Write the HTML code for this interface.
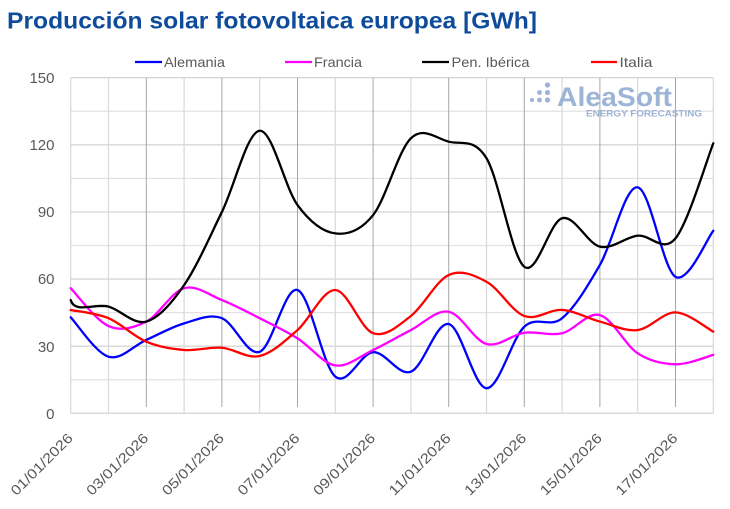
<!DOCTYPE html>
<html>
<head>
<meta charset="utf-8">
<style>
  html,body{margin:0;padding:0;background:#fff;}
  svg{display:block;}
  text{font-family:"Liberation Sans",sans-serif;}
</style>
</head>
<body>
<svg id="c" width="730" height="509" viewBox="0 0 730 509" xmlns="http://www.w3.org/2000/svg">
  <rect width="730" height="509" fill="#fff"/>
  <text x="7" y="28.5" font-size="23" font-weight="bold" fill="#0e4c9b" textLength="530" lengthAdjust="spacingAndGlyphs">Producción solar fotovoltaica europea [GWh]</text>

  <!-- legend -->
  <g font-size="14" fill="#595959">
    <line x1="135" y1="62" x2="162" y2="62" stroke="#0000ff" stroke-width="2.2"/>
    <text x="164" y="67" textLength="61" lengthAdjust="spacingAndGlyphs">Alemania</text>
    <line x1="285" y1="62" x2="312" y2="62" stroke="#ff00ff" stroke-width="2.2"/>
    <text x="314" y="67" textLength="48" lengthAdjust="spacingAndGlyphs">Francia</text>
    <line x1="422" y1="62" x2="449" y2="62" stroke="#000" stroke-width="2.2"/>
    <text x="451.5" y="67" textLength="78" lengthAdjust="spacingAndGlyphs">Pen. Ibérica</text>
    <line x1="591" y1="62" x2="617" y2="62" stroke="#ff0000" stroke-width="2.2"/>
    <text x="619.5" y="67" textLength="33" lengthAdjust="spacingAndGlyphs">Italia</text>
  </g>

  <g id="grid"></g>

  <!-- watermark -->
  <g fill="#9db4d6">
    <circle cx="532" cy="100" r="2"/>
    <circle cx="539.5" cy="100" r="2.4"/>
    <circle cx="539.5" cy="92.5" r="2.4"/>
    <circle cx="547.5" cy="100" r="2.6"/>
    <circle cx="547.5" cy="92.5" r="2.6"/>
    <circle cx="547.5" cy="85" r="2.6"/>
    <text x="557" y="106" font-size="27" font-weight="bold" textLength="115" lengthAdjust="spacingAndGlyphs">AleaSoft</text>
    <text x="586" y="116.5" font-size="9.5" font-weight="bold" textLength="116" lengthAdjust="spacingAndGlyphs">ENERGY FORECASTING</text>
  </g>

  <g id="series" fill="none" stroke-width="2.3" stroke-linejoin="round" stroke-linecap="round"></g>

  <!-- y labels -->
  <g font-size="15" fill="#595959" text-anchor="end">
    <text x="54.5" y="83">150</text>
    <text x="54.5" y="150">120</text>
    <text x="54.5" y="217">90</text>
    <text x="54.5" y="284">60</text>
    <text x="54.5" y="352">30</text>
    <text x="54.5" y="419">0</text>
  </g>
  <g id="xl" font-size="14" fill="#595959" text-anchor="end"></g>
</svg>
<script>
(function(){
  var NS="http://www.w3.org/2000/svg";
  function X(i){return 70.7+i*37.8;}
  function Y(v){return 413.3-v*2.2373;}
  var grid=document.getElementById('grid');
  function line(x1,y1,x2,y2,c,w){var l=document.createElementNS(NS,'line');
    l.setAttribute('x1',x1);l.setAttribute('y1',y1);l.setAttribute('x2',x2);l.setAttribute('y2',y2);
    l.setAttribute('stroke',c);l.setAttribute('stroke-width',w||1);grid.appendChild(l);}
  for(var v=15;v<=150;v+=15){
    var y=Y(v);
    line(70.7,y,713.3,y,(v%30==0)?'#cfcfcf':'#e2e2e2',1.2);
  }
  for(var i=1;i<=17;i++){
    var x=X(i);
    if(i%2==0 && i<17) line(x,77.7,x,407,'#a6a6a6',1);
    else line(x,77.7,x,413.3,'#d9d9d9',1.2);
  }
  line(70.7,77.7,70.7,413.3,'#d9d9d9',1.2);
  line(70.7,413.3,713.3,413.3,'#d9d9d9',1.4);

  var data={
    '#0000ff':[42.9,25.3,32.8,40.2,42.5,27.5,55.1,16.4,27.3,18.6,39.9,11.2,38.7,42.5,66.3,101,61,81.6],
    '#ff00ff':[55.9,39.0,41,55.9,50.6,42.5,33.5,21.4,28.3,37.2,45.4,31,36,35.8,43.9,26.8,21.9,26.1],
    '#000000':[50.6,47.7,41,57.3,90,126.3,93.1,80.4,88.6,122.9,121.4,114,65.5,87.2,74.5,79.4,78.2,120.7],
    '#ff0000':[46.2,42.5,32,28.3,29.3,25.6,37.2,55.1,35.8,43.5,61.8,58.8,43.5,46.2,41,37.2,45.1,36.5]
  };
  var g=document.getElementById('series');
  for(var c in data){
    var d=data[c], pts=[];
    for(var k=0;k<d.length;k++) pts.push([X(k),Y(d[k])]);
    var s='M'+pts[0][0].toFixed(2)+','+pts[0][1].toFixed(2);
    for(var k=0;k<pts.length-1;k++){
      var p0=pts[k>0?k-1:k],p1=pts[k],p2=pts[k+1],p3=pts[k+2<pts.length?k+2:k+1];
      var c1x=p1[0]+(p2[0]-p0[0])/6,c1y=p1[1]+(p2[1]-p0[1])/6;
      var c2x=p2[0]-(p3[0]-p1[0])/6,c2y=p2[1]-(p3[1]-p1[1])/6;
      if(k==0 && c=='#000000'){c1x=p1[0]+4;c1y=p1[1]+14;}
      s+=' C'+c1x.toFixed(2)+','+c1y.toFixed(2)+' '+c2x.toFixed(2)+','+c2y.toFixed(2)+' '+p2[0].toFixed(2)+','+p2[1].toFixed(2);
    }
    var p=document.createElementNS(NS,'path');
    p.setAttribute('d',s);p.setAttribute('stroke',c);g.appendChild(p);
  }
  var xl=document.getElementById('xl');
  var labels=['01/01/2026','03/01/2026','05/01/2026','07/01/2026','09/01/2026','11/01/2026','13/01/2026','15/01/2026','17/01/2026'];
  for(var j=0;j<labels.length;j++){
    var bx=X(j*2)+3, by=439;
    var t=document.createElementNS(NS,'text');
    t.setAttribute('x',bx);t.setAttribute('y',by);
    t.setAttribute('transform','rotate(-45 '+bx+' '+by+')');
    t.setAttribute('textLength','81');t.setAttribute('lengthAdjust','spacingAndGlyphs');
    t.textContent=labels[j];xl.appendChild(t);
  }
})();
</script>
</body>
</html>
